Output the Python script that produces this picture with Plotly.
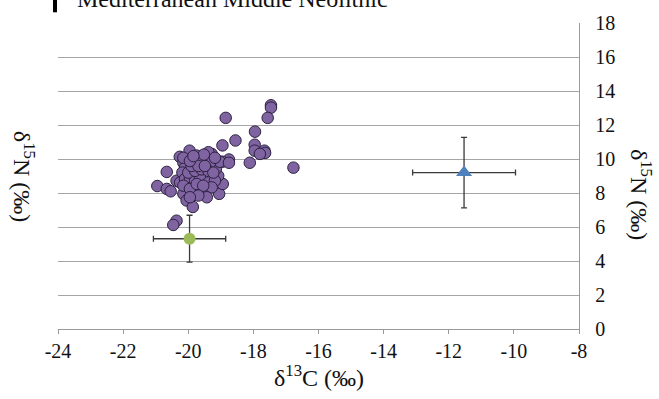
import plotly.graph_objects as go

# Middle Neolithic human samples (purple)
human_c = [-17.46, -17.46, -17.56, -18.85, -17.95, -18.55, -18.95, -17.96, -17.96, -17.66,
           -17.64, -17.80, -18.11, -16.77, -18.75, -18.95, -19.28, -19.38, -19.96, -20.26,
           -19.74, -20.66, -20.95, -20.66, -20.54, -20.36, -20.15, -20.05, -19.86, -20.36,
           -20.46, -19.05, -18.94, -19.08, -19.15, -19.03, -18.75, -20.15, -20.10, -20.18,
           -19.74, -19.54, -19.33, -20.25, -20.10, -19.95, -19.79, -19.64, -19.38, -19.18,
           -19.84, -19.64, -19.49, -19.28, -20.15, -19.95, -19.74, -19.54, -20.00, -19.79,
           -19.59, -19.38, -19.23, -19.90, -19.69, -19.49, -19.52, -20.15, -19.95, -19.84,
           -19.18, -19.43, -19.69, -19.95]
human_n = [13.16, 13.02, 12.42, 12.42, 11.61, 11.09, 10.80, 10.84, 10.49, 10.49,
           10.36, 10.30, 9.78, 9.49, 9.97, 9.84, 10.30, 10.40, 10.49, 10.13,
           10.20, 9.24, 8.41, 8.24, 8.10, 8.72, 7.95, 7.56, 7.18, 6.37,
           6.12, 7.95, 8.53, 9.01, 9.43, 9.84, 9.78, 9.78, 9.49, 9.20,
           9.68, 9.88, 9.78, 8.62, 8.82, 8.91, 8.72, 8.91, 8.62, 8.72,
           8.04, 8.14, 8.04, 8.33, 8.43, 8.24, 8.53, 8.43, 9.20, 9.30,
           9.39, 9.30, 9.20, 9.59, 9.59, 9.59, 10.26, 10.07, 9.88, 10.17,
           10.07, 7.75, 7.85, 7.75]

# Fauna mean (green) and marine mean (blue) with SD
green_c, green_n, green_sd_c, green_sd_n = [-19.96], [5.31], [1.11], [1.38]
blue_c, blue_n, blue_sd_c, blue_sd_n = [-11.53], [9.2], [1.58], [2.07]

x_ticks = [-24, -22, -20, -18, -16, -14, -12, -10, -8]
x_ticktext = ["-24", "-22", "-20", "-18", "-16", "-14", "-12", "-10", "-8"]
y_ticks = [0, 2, 4, 6, 8, 10, 12, 14, 16, 18]

serif = "Times New Roman"
txt = "#111111"
err_col = "#3a3a3a"

fig = go.Figure()
fig.add_trace(go.Scatter(
    x=human_c, y=human_n, mode="markers",
    marker=dict(size=11.5, color="#8064A2", line=dict(color="#2b2140", width=1)),
    showlegend=False))
fig.add_trace(go.Scatter(
    x=green_c, y=green_n, mode="markers",
    marker=dict(size=12, color="#9BBB59", line=dict(width=0)),
    error_x=dict(type="data", array=green_sd_c, color=err_col, thickness=1.3, width=3),
    error_y=dict(type="data", array=green_sd_n, color=err_col, thickness=1.3, width=3),
    showlegend=False))
fig.add_trace(go.Scatter(
    x=blue_c, y=blue_n, mode="markers",
    marker=dict(size=14, symbol="triangle-up", color="#4F81BD", line=dict(width=0)),
    error_x=dict(type="data", array=blue_sd_c, color=err_col, thickness=1.3, width=3),
    error_y=dict(type="data", array=blue_sd_n, color=err_col, thickness=1.3, width=3),
    showlegend=False))

fig.update_layout(
    width=659, height=399,
    margin=dict(l=58, r=80, t=18, b=70),
    paper_bgcolor="white", plot_bgcolor="white",
    font=dict(family=serif, color=txt, size=20),
    xaxis=dict(range=[-24, -8], tickvals=x_ticks, ticktext=x_ticktext,
               showgrid=False, zeroline=False, showline=True,
               linecolor="#9a9a9a", linewidth=1.3,
               ticks="outside", ticklen=4, tickcolor="#9a9a9a", tickwidth=1.3,
               tickfont=dict(size=20, family=serif, color=txt)),
    yaxis=dict(range=[0, 18], tickvals=y_ticks, side="right",
               showgrid=True, gridcolor="#a6a6a6", gridwidth=1.3, zeroline=False,
               showline=True, linecolor="#9a9a9a", linewidth=1.3, ticks="",
               ticklabelstandoff=11,
               tickfont=dict(size=20, family=serif, color=txt)),
    annotations=[
        dict(text="δ<sup>13</sup>C (‰)", xref="paper", yref="paper",
             x=0.5, y=-0.154, xanchor="center", yanchor="middle", showarrow=False,
             font=dict(size=24, family=serif, color=txt)),
        dict(text="δ<sup>15</sup>N (‰)", xref="paper", yref="paper",
             x=-0.065, y=0.5, xanchor="center", yanchor="middle", showarrow=False,
             textangle=90, font=dict(size=24, family=serif, color=txt)),
        dict(text="δ<sup>15</sup>N (‰)", xref="paper", yref="paper",
             x=1.118, y=0.44, xanchor="center", yanchor="middle", showarrow=False,
             textangle=90, font=dict(size=24, family=serif, color=txt)),
        dict(text="Mediterranean Middle Neolithic", xref="paper", yref="paper",
             x=0.032, y=1.03, xanchor="left", yanchor="bottom", showarrow=False,
             font=dict(size=24, family=serif, color=txt)),
    ],
    shapes=[dict(type="rect", xref="paper", yref="paper",
                 x0=-0.0096, x1=-0.0019, y0=1.035, y1=1.1,
                 fillcolor="#000000", line=dict(width=0))],
)

fig.write_html("out.html", config={"displayModeBar": False},
               post_script="document.body.style.margin='0';document.body.style.overflow='hidden';")
